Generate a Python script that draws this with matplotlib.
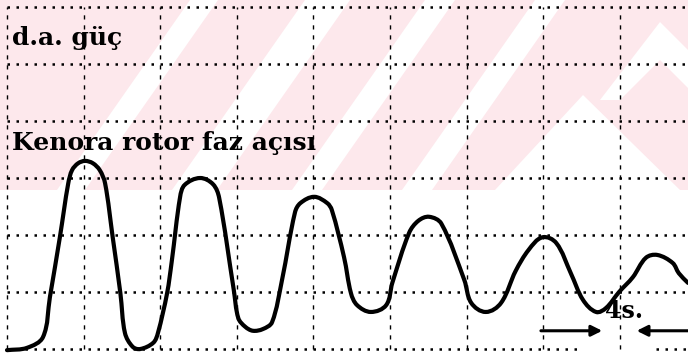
import math
import matplotlib
matplotlib.use("Agg")
import matplotlib.pyplot as plt
from matplotlib.patches import Polygon, Rectangle, PathPatch
from matplotlib.path import Path

# ---- data: rotor phase-angle trace (x = time in grid divisions, y = amplitude in grid divisions)
time_div = [0.00, 0.26, 0.47, 0.56, 0.69, 0.80, 0.85, 0.93, 1.02, 1.12, 1.21, 1.28,
            1.38, 1.48, 1.54, 1.64, 1.74, 1.91, 1.97, 2.09, 2.15, 2.26, 2.32, 2.52,
            2.69, 2.77, 2.96, 3.02, 3.11, 3.21, 3.34, 3.46, 3.59, 3.76, 3.83, 4.01,
            4.18, 4.24, 4.40, 4.49, 4.57, 4.75, 4.95, 5.03, 5.25, 5.37, 5.51, 5.67,
            5.97, 6.06, 6.25, 6.45, 6.64, 6.81, 6.99, 7.17, 7.36, 7.52, 7.69,
            7.82, 7.99, 8.17, 8.34, 8.49, 8.69, 8.77, 8.89]
angle_div = [-0.02, 0.02, 0.21, 0.91, 1.96, 2.91, 3.14, 3.26, 3.30, 3.26, 3.14, 2.91,
             1.96, 0.98, 0.28, 0.04, 0.00, 0.11, 0.28, 0.98, 1.53, 2.67, 2.88, 3.00,
             2.89, 2.65, 1.04, 0.54, 0.39, 0.32, 0.35, 0.47, 1.21, 2.40, 2.56, 2.67,
             2.56, 2.44, 1.61, 0.98, 0.77, 0.65, 0.77, 1.16, 2.04, 2.25, 2.32, 2.20,
             1.21, 0.81, 0.65, 0.81, 1.37, 1.74, 1.96, 1.86, 1.33, 0.86, 0.65,
             0.72, 1.00, 1.26, 1.60, 1.65, 1.51, 1.33, 1.16]

grid_x = [0, 1, 2, 3, 4, 5, 6, 7, 8]
grid_y = [1, 2, 3, 4, 5, 6]

label_power = "d.a. güç"
label_angle = "Kenora rotor faz açısı"
label_time = "4s."

PINK = "#fde8ec"

fig = plt.figure(figsize=(6.88, 3.55), dpi=100)

# ---- background watermark (decoration, pixel coordinates)
bg = fig.add_axes([0, 0, 1, 1])
bg.set_xlim(0, 688)
bg.set_ylim(355, 0)
bg.axis("off")
bg.add_patch(Rectangle((0, 0), 688, 190, color=PINK, lw=0))
slope = 0.7
for x0, w in [(190, 28), (305, 45), (425, 30), (535, 30)]:
    bg.add_patch(Polygon([(x0, 0), (x0 + w, 0), (x0 + w - slope * 190, 190),
                          (x0 - slope * 190, 190)], closed=True, color="white", lw=0))
bg.add_patch(Polygon([(583, 95), (680, 190), (495, 190)], closed=True, color="white", lw=0))
bg.add_patch(Polygon([(660, 22), (700, 62), (700, 100), (660, 60), (620, 100), (600, 100)],
                     closed=True, color="white", lw=0))

# ---- oscillogram
ax = fig.add_axes([0, 0, 1, 1])
ax.patch.set_alpha(0)
ax.set_xlim(-0.0914, 8.89)
ax.set_ylim(-0.105, 6.123)
ax.axis("off")

hstyle = dict(color="black", lw=1.8, linestyle=(0, (1, 2.6)))
vstyle = dict(color="black", lw=1.0, linestyle=(0, (3, 4.2)))
for gy in grid_y:
    ax.plot([grid_x[0], 8.89], [gy, gy], **hstyle)
ax.plot([grid_x[0], 7.49], [0, 0], **hstyle)
ax.plot([8.47, 8.89], [0, 0], **hstyle)
for gx in grid_x:
    ax.plot([gx, gx], [0, grid_y[-1]], **vstyle)

# smooth trace through the read points (tangent-limited cubic Bezier path)
SX, SY = 76.6, 57.0  # aspect of a grid division on screen
pts = list(zip(time_div, angle_div))
n = len(pts)


def direction(a, b):
    dx, dy = (b[0] - a[0]) * SX, (b[1] - a[1]) * SY
    d = math.hypot(dx, dy) or 1.0
    return dx / d, dy / d


verts = [pts[0]]
codes = [Path.MOVETO]
for i in range(n - 1):
    p0 = pts[max(i - 1, 0)]
    p1 = pts[i]
    p2 = pts[i + 1]
    p3 = pts[min(i + 2, n - 1)]
    seg = math.hypot((p2[0] - p1[0]) * SX, (p2[1] - p1[1]) * SY) / 3.0
    d1 = direction(p0, p2)
    d2 = direction(p1, p3)
    c1 = (p1[0] + d1[0] * seg / SX, p1[1] + d1[1] * seg / SY)
    c2 = (p2[0] - d2[0] * seg / SX, p2[1] - d2[1] * seg / SY)
    verts += [c1, c2, p2]
    codes += [Path.CURVE4] * 3
ax.add_patch(PathPatch(Path(verts, codes), fill=False, edgecolor="black", lw=3.0,
                       joinstyle="round", capstyle="round", transform=ax.transData))

serif = ["DejaVu Serif"]
ax.text(0.065, 5.33, label_power, family=serif, fontsize=18, fontweight="bold", va="baseline")
ax.text(0.065, 3.49, label_angle, family=serif, fontsize=18, fontweight="bold", va="baseline")
ax.text(7.80, 0.54, label_time, family=serif, fontsize=17, fontweight="bold", va="baseline")

ax.annotate("", xy=(7.77, 0.32), xytext=(6.97, 0.32), annotation_clip=False,
            arrowprops=dict(arrowstyle="-|>", lw=2.2, color="black", mutation_scale=16,
                            shrinkA=0, shrinkB=0))
ax.annotate("", xy=(8.22, 0.32), xytext=(9.2, 0.32), annotation_clip=False,
            arrowprops=dict(arrowstyle="-|>", lw=2.2, color="black", mutation_scale=16,
                            shrinkA=0, shrinkB=0))

fig.savefig("out.png", dpi=100)
